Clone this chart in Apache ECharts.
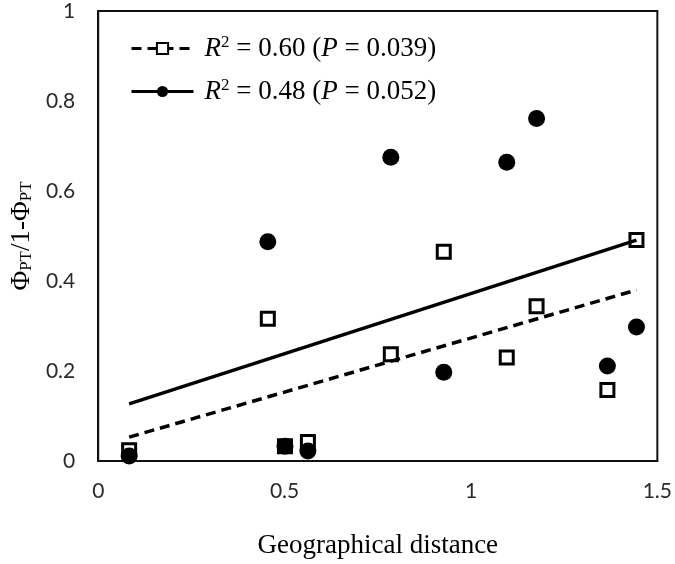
<!DOCTYPE html>
<html>
<head>
<meta charset="utf-8">
<script src="https://cdn.jsdelivr.net/npm/echarts@6/dist/echarts.min.js"></script>
<style>
  html, body { margin: 0; padding: 0; background: #fff; }
  #chart { width: 675px; height: 564px; }
</style>
</head>
<body>
<div id="chart"></div>
<script>
  // geographical distance of each pair
  const distance = [0.083, 0.455, 0.501, 0.5625, 0.785, 0.927, 1.096, 1.176, 1.366, 1.444];
  // open squares
  const squareVals = [0.024, 0.316, 0.033, 0.042, 0.237, 0.465, 0.230, 0.344, 0.158, 0.491];
  // filled circles
  const circleVals = [0.011, 0.487, 0.033, 0.022, 0.675, 0.197, 0.664, 0.761, 0.211, 0.298];
  // fitted lines, end points
  const fitX = [0.083, 1.444];
  const dashFit = [0.053, 0.380];
  const solidFit = [0.127, 0.491];
  const xTicks = [0, 0.5, 1, 1.5];

  const pairs = (xs, ys) => xs.map((x, i) => [x, ys[i]]);

  const serif = '"Liberation Serif", "Times New Roman", serif';
  const sans = 'Lato, "Open Sans", sans-serif';

  let chart = echarts.init(document.getElementById('chart'));
  var option = {
    animation: false,
    grid: {
      left: 98, right: 17, top: 11, bottom: 97,
      show: true, borderColor: '#111', borderWidth: 2
    },
    legend: {
      orient: 'vertical',
      left: 125, top: 29,
      itemWidth: 62, itemHeight: 14, itemGap: 15,
      data: ['dash', 'solid'],
      lineStyle: { width: 3 },
      formatter: function (name) {
        return name === 'dash'
          ? '{i|R}{sup|2} = 0.60 ({i|P} = 0.039)'
          : '{i|R}{sup|2} = 0.48 ({i|P} = 0.052)';
      },
      textStyle: {
        fontFamily: serif, fontSize: 27, color: '#000', padding: [0, 0, 0, 6],
        rich: {
          i: { fontFamily: serif, fontSize: 27, fontStyle: 'italic', color: '#000' },
          sup: { fontFamily: serif, fontSize: 17, color: '#000', verticalAlign: 'top', padding: [0, 0, 12, 0] }
        }
      }
    },
    xAxis: {
      type: 'value', min: 0, max: 1.5, interval: 0.5,
      name: 'Geographical distance', nameLocation: 'middle', nameGap: 71,
      nameTextStyle: { fontFamily: serif, fontSize: 27, color: '#000' },
      axisLine: { show: true, lineStyle: { color: '#111', width: 2 } },
      axisTick: { show: false },
      splitLine: { show: false },
      axisLabel: {
        margin: 20, fontFamily: sans, fontSize: 21, color: '#2a2a2a',
        customValues: xTicks
      }
    },
    yAxis: {
      type: 'value', min: 0, max: 1, interval: 0.2,
      name: 'Φ{s|PT}/1-Φ{s|PT}', nameLocation: 'middle', nameGap: 57,
      nameTextStyle: {
        fontFamily: serif, fontSize: 27, color: '#000',
        rich: { s: { fontFamily: serif, fontSize: 17, color: '#000', verticalAlign: 'bottom', padding: [8, 0, 0, 0] } }
      },
      axisLine: { show: true, lineStyle: { color: '#111', width: 2 } },
      axisTick: { show: false },
      splitLine: { show: false },
      axisLabel: {
        margin: 23, fontFamily: sans, fontSize: 21, color: '#2a2a2a',
        formatter: v => String(+v.toFixed(1))
      }
    },
    series: [
      {
        name: 'dash', type: 'line', data: pairs(fitX, dashFit),
        symbol: 'rect', symbolSize: 11, showSymbol: false,
        itemStyle: { color: '#fff', borderColor: '#000', borderWidth: 2.5 },
        lineStyle: { color: '#000', width: 3.5, type: [10, 6] },
        z: 3
      },
      {
        name: 'solid', type: 'line', data: pairs(fitX, solidFit),
        symbol: 'circle', symbolSize: 14, showSymbol: false,
        itemStyle: { color: '#000' },
        lineStyle: { color: '#000', width: 3.5 },
        z: 3
      },
      {
        name: 'squares', type: 'scatter', data: pairs(distance, squareVals),
        symbol: 'rect', symbolSize: 13,
        itemStyle: { color: 'rgba(255,255,255,0)', borderColor: '#000', borderWidth: 3, opacity: 1 },
        z: 4
      },
      {
        name: 'circles', type: 'scatter', data: pairs(distance, circleVals),
        symbol: 'circle', symbolSize: 17,
        itemStyle: { color: '#000', opacity: 1 },
        z: 5
      }
    ]
  };
  option && chart.setOption(option);
</script>
</body>
</html>
